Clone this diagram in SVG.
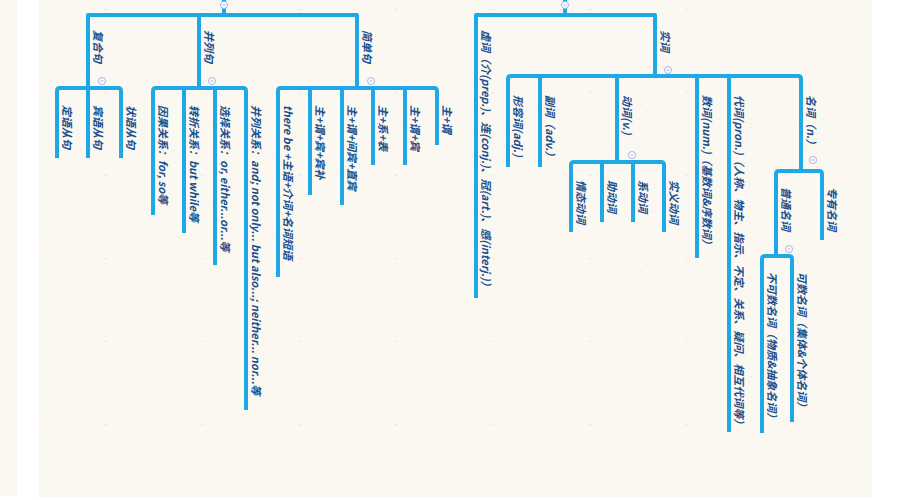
<svg xmlns="http://www.w3.org/2000/svg" width="900" height="500" viewBox="0 0 900 500">
<defs>
<pattern id="paper" x="0" y="0" width="97" height="83" patternUnits="userSpaceOnUse">
<rect width="97" height="83" fill="#fbf8f2"/>
<rect x="7" y="9" width="2.5" height="1" fill="#f2c9aa" opacity="0.45"/>
<rect x="58" y="21" width="1.3" height="1.3" fill="#f0c3a2" opacity="0.4"/>
<rect x="29" y="61" width="2" height="1" fill="#f2c9aa" opacity="0.4"/>
<rect x="81" y="70" width="1.3" height="1.3" fill="#f0c3a2" opacity="0.35"/>
<rect x="71" y="44" width="2" height="1" fill="#f4d6bf" opacity="0.45"/>
<rect x="18" y="37" width="1.2" height="1.2" fill="#efc0a0" opacity="0.3"/>
<rect x="44" y="5" width="1.2" height="1.2" fill="#efc0a0" opacity="0.3"/>
</pattern>
<style>
.ln{fill:none;stroke:#1fa8e6;stroke-width:4;stroke-linejoin:round;stroke-linecap:butt}
.t{font-family:"Noto Sans CJK SC","Noto Sans",sans-serif;font-size:11px;font-weight:700;font-style:italic;fill:#1c4f8d}
.c{fill:#ffffff;stroke:#a8b3e4;stroke-width:1}
.cd{fill:#a8b3e4}
</style>
</defs>
<rect width="900" height="500" fill="#ffffff"/>
<rect x="0" y="0" width="17" height="496" fill="#fbf8f2"/>
<rect x="39" y="0" width="833" height="497" fill="url(#paper)"/>

<g id="connectors">
<path class="ln" d="M224,0 V15"/>
<path class="ln" d="M88,88 V15 H357 V88"/>
<path class="ln" d="M199,15 V88"/>
<path class="ln" d="M57,158 V91 Q57,88 60,88 H118 Q121,88 121,91 V158"/>
<path class="ln" d="M88,88 V158"/>
<path class="ln" d="M153,215 V91 Q153,88 156,88 H243 Q246,88 246,91 V410"/>
<path class="ln" d="M184,88 V233"/>
<path class="ln" d="M215,88 V265"/>
<path class="ln" d="M278,277 V91 Q278,88 281,88 H434 Q437,88 437,91 V145"/>
<path class="ln" d="M310,88 V195"/>
<path class="ln" d="M342,88 V205"/>
<path class="ln" d="M373,88 V165"/>
<path class="ln" d="M405,88 V165"/>
<path class="ln" d="M565,0 V15"/>
<path class="ln" d="M476,298 V15 H655 V76"/>
<path class="ln" d="M508,167 V79 Q508,76 511,76 H798 Q801,76 801,79 V171"/>
<path class="ln" d="M540,76 V167"/>
<path class="ln" d="M617,76 V162"/>
<path class="ln" d="M697,76 V258"/>
<path class="ln" d="M729,76 V432"/>
<path class="ln" d="M571,232 V165 Q571,162 574,162 H661 Q664,162 664,165 V232"/>
<path class="ln" d="M602,162 V222"/>
<path class="ln" d="M633,162 V222"/>
<path class="ln" d="M776,256 V174 Q776,171 779,171 H819 Q822,171 822,174 V240"/>
<path class="ln" d="M762,433 V259 Q762,256 765,256 H789 Q792,256 792,259 V422"/>
</g>

<g id="toggles">
<g><circle class="c" cx="224" cy="5" r="3.5"/><rect class="cd" x="222.5" y="4.5" width="3" height="1"/></g>
<g><circle class="c" cx="102" cy="81" r="3.5"/><rect class="cd" x="100.5" y="80.5" width="3" height="1"/></g>
<g><circle class="c" cx="212" cy="81" r="3.5"/><rect class="cd" x="210.5" y="80.5" width="3" height="1"/></g>
<g><circle class="c" cx="371" cy="81" r="3.5"/><rect class="cd" x="369.5" y="80.5" width="3" height="1"/></g>
<g><circle class="c" cx="565" cy="5" r="3.5"/><rect class="cd" x="563.5" y="4.5" width="3" height="1"/></g>
<g><circle class="c" cx="668" cy="70" r="3.5"/><rect class="cd" x="666.5" y="69.5" width="3" height="1"/></g>
<g><circle class="c" cx="632" cy="155" r="3.5"/><rect class="cd" x="630.5" y="154.5" width="3" height="1"/></g>
<g><circle class="c" cx="813" cy="160" r="3.5"/><rect class="cd" x="811.5" y="159.5" width="3" height="1"/></g>
<g><circle class="c" cx="789" cy="249" r="3.5"/><rect class="cd" x="787.5" y="248.5" width="3" height="1"/></g>
</g>

<g id="n-fuheju"><text class="t" transform="translate(94,30) rotate(90)">复合句</text></g>
<g id="n-binglieju"><text class="t" transform="translate(205,30) rotate(90)">并列句</text></g>
<g id="n-jiandanju"><text class="t" transform="translate(363,30) rotate(90)">简单句</text></g>

<g id="n-dingyu"><text class="t" transform="translate(63,105) rotate(90)">定语从句</text></g>
<g id="n-binyu"><text class="t" transform="translate(94,105) rotate(90)">宾语从句</text></g>
<g id="n-zhuangyu"><text class="t" transform="translate(127,105) rotate(90)">状语从句</text></g>

<g id="n-yinguo"><text class="t" transform="translate(159,105) rotate(90)">因果关系：for, so等</text></g>
<g id="n-zhuanzhe"><text class="t" transform="translate(190,105) rotate(90)">转折关系：but while等</text></g>
<g id="n-xuanze"><text class="t" transform="translate(221,105) rotate(90)">选择关系：or, either...or...等</text></g>
<g id="n-binglie"><text class="t" transform="translate(252,105) rotate(90)">并列关系：and; not only... but also...; neither... nor...等</text></g>

<g id="n-therebe"><text class="t" transform="translate(284,105) rotate(90)">there be +主语+介词+名词短语</text></g>
<g id="n-zwbbb"><text class="t" transform="translate(316,105) rotate(90)">主+谓+宾+宾补</text></g>
<g id="n-zwjz"><text class="t" transform="translate(348,105) rotate(90)">主+谓+间宾+直宾</text></g>
<g id="n-zxb"><text class="t" transform="translate(379,105) rotate(90)">主+系+表</text></g>
<g id="n-zwb"><text class="t" transform="translate(411,105) rotate(90)">主+谓+宾</text></g>
<g id="n-zw"><text class="t" transform="translate(443,105) rotate(90)">主+谓</text></g>

<g id="n-xuci"><text class="t" transform="translate(482,30) rotate(90)">虚词（介(prep.)、连(conj.)、冠(art.)、感(interj.)）</text></g>
<g id="n-shici"><text class="t" transform="translate(661,30) rotate(90)">实词</text></g>

<g id="n-adj"><text class="t" transform="translate(514,95) rotate(90)">形容词(adj.)</text></g>
<g id="n-adv"><text class="t" transform="translate(546,95) rotate(90)">副词（adv.）</text></g>
<g id="n-verb"><text class="t" transform="translate(623,95) rotate(90)">动词(v.)</text></g>
<g id="n-num"><text class="t" transform="translate(703,95) rotate(90)">数词(num.)（基数词&amp;序数词）</text></g>
<g id="n-pron"><text class="t" transform="translate(735,95) rotate(90)">代词(pron.)（人称、物主、指示、不定、关系、疑问、相互代词等）</text></g>
<g id="n-noun"><text class="t" transform="translate(807,95) rotate(90)">名词（n.）</text></g>

<g id="n-qingtai"><text class="t" transform="translate(577,180) rotate(90)">情态动词</text></g>
<g id="n-zhu"><text class="t" transform="translate(608,180) rotate(90)">助动词</text></g>
<g id="n-xi"><text class="t" transform="translate(639,180) rotate(90)">系动词</text></g>
<g id="n-shiyi"><text class="t" transform="translate(670,180) rotate(90)">实义动词</text></g>

<g id="n-putong"><text class="t" transform="translate(782,187) rotate(90)">普通名词</text></g>
<g id="n-zhuanyou"><text class="t" transform="translate(828,187) rotate(90)">专有名词</text></g>

<g id="n-bukeshu"><text class="t" transform="translate(768,272) rotate(90)">不可数名词（物质&amp;抽象名词）</text></g>
<g id="n-keshu"><text class="t" transform="translate(798,272) rotate(90)">可数名词（集体&amp;个体名词）</text></g>
</svg>
